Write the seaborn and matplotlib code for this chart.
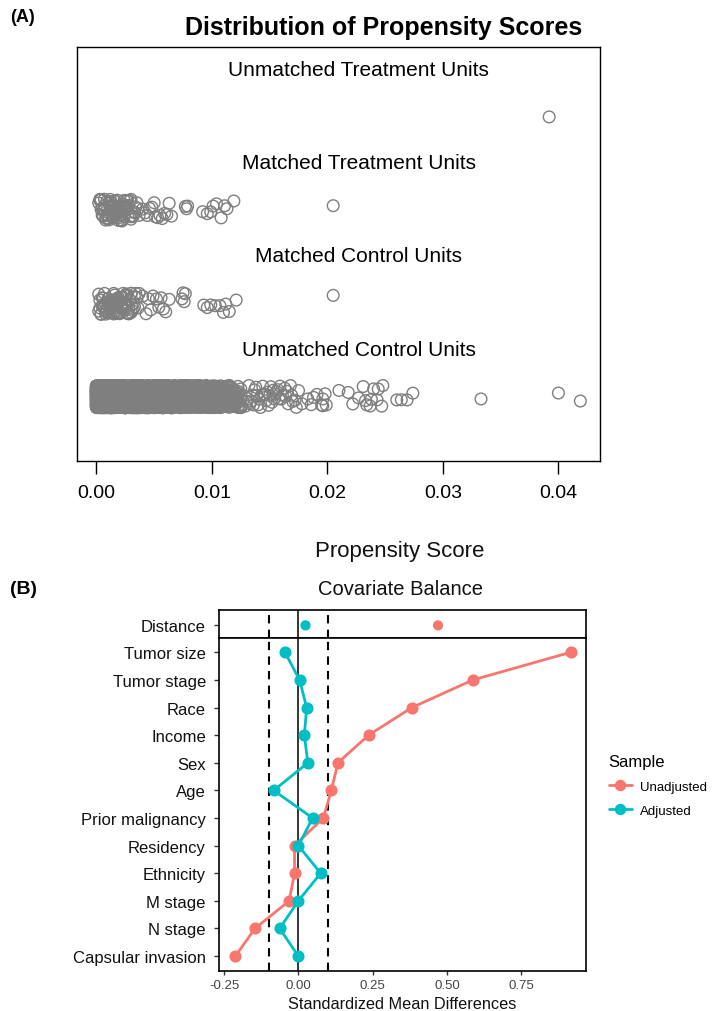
import numpy as np
import pandas as pd
import seaborn as sns
import matplotlib.pyplot as plt
from matplotlib.lines import Line2D

sns.set_style("white")
plt.rcParams['font.family'] = ['Liberation Sans', 'DejaVu Sans']
plt.rcParams['text.color'] = 'black'
plt.rcParams['axes.labelcolor'] = 'black'

# ---- panel A data: propensity scores per group ----
groups = ["Unmatched Treatment Units", "Matched Treatment Units",
          "Matched Control Units", "Unmatched Control Units"]

unmatched_treat = [0.0392]

matched_treat = [
    0.0002, 0.0003, 0.0004, 0.0005, 0.0005, 0.0006, 0.0007, 0.0007, 0.0008, 0.0008,
    0.0009, 0.0009, 0.0010, 0.0010, 0.0011, 0.0011, 0.0012, 0.0012, 0.0013, 0.0013,
    0.0014, 0.0014, 0.0015, 0.0015, 0.0016, 0.0016, 0.0017, 0.0017, 0.0018, 0.0018,
    0.0019, 0.0019, 0.0020, 0.0020, 0.0021, 0.0021, 0.0022, 0.0022, 0.0023, 0.0024,
    0.0024, 0.0025, 0.0026, 0.0026, 0.0027, 0.0028, 0.0029, 0.0030, 0.0031, 0.0032,
    0.0033, 0.0034, 0.0035, 0.0036, 0.0037,
    0.0003, 0.0004, 0.0006, 0.0007, 0.0009, 0.0010, 0.0011, 0.0012, 0.0013, 0.0014,
    0.0015, 0.0016, 0.0017, 0.0018, 0.0019, 0.0020, 0.0021, 0.0022, 0.0023, 0.0025,
    0.0026, 0.0027, 0.0029, 0.0030, 0.0032,
    0.0040, 0.0042, 0.0044, 0.0046, 0.0048, 0.0050, 0.0051, 0.0053, 0.0055, 0.0057,
    0.0059, 0.0061, 0.0063, 0.0065,
    0.0077, 0.0078, 0.0079,
    0.0092, 0.0096, 0.0099, 0.0101, 0.0104, 0.0108, 0.0111, 0.0113, 0.0119,
    0.0205]

matched_ctrl = [
    0.0002, 0.0003, 0.0003, 0.0004, 0.0005, 0.0006, 0.0006, 0.0007, 0.0008, 0.0008,
    0.0009, 0.0010, 0.0010, 0.0011, 0.0011, 0.0012, 0.0012, 0.0013, 0.0013, 0.0014,
    0.0014, 0.0015, 0.0015, 0.0016, 0.0016, 0.0017, 0.0017, 0.0018, 0.0018, 0.0019,
    0.0019, 0.0020, 0.0020, 0.0021, 0.0021, 0.0022, 0.0023, 0.0023, 0.0024, 0.0025,
    0.0025, 0.0026, 0.0027, 0.0028, 0.0028, 0.0029, 0.0030, 0.0031, 0.0032, 0.0033,
    0.0034, 0.0035, 0.0036, 0.0037,
    0.0002, 0.0004, 0.0005, 0.0007, 0.0008, 0.0009, 0.0011, 0.0012, 0.0013, 0.0014,
    0.0015, 0.0016, 0.0017, 0.0018, 0.0019, 0.0020, 0.0022, 0.0023, 0.0024, 0.0026,
    0.0027, 0.0028, 0.0030, 0.0031, 0.0033,
    0.0040, 0.0043, 0.0045, 0.0047, 0.0049, 0.0052, 0.0054, 0.0056, 0.0058, 0.0060,
    0.0063,
    0.0074, 0.0075, 0.0076, 0.0077,
    0.0093, 0.0096, 0.0099, 0.0103, 0.0107, 0.0110, 0.0112, 0.0115, 0.0121,
    0.0205]

# unmatched controls: dense part as a frequency table, tail as single units
uc_bin_scores = [0.00000, 0.00025, 0.00050, 0.00075, 0.00100, 0.00125, 0.00150, 0.00175,
                 0.00200, 0.00225, 0.00250, 0.00275, 0.00300, 0.00325, 0.00350, 0.00375,
                 0.00400, 0.00425, 0.00450, 0.00475, 0.00500, 0.00525, 0.00550, 0.00575,
                 0.00600, 0.00625, 0.00650, 0.00675, 0.00700, 0.00725, 0.00750, 0.00775,
                 0.00800, 0.00825, 0.00850, 0.00875, 0.00900, 0.00925, 0.00950, 0.00975,
                 0.01000, 0.01025, 0.01050, 0.01075, 0.01100, 0.01125, 0.01150, 0.01175,
                 0.01200, 0.01225, 0.01250]
uc_bin_counts = [90, 120, 140, 150, 150, 145, 140, 135, 130, 125, 120, 115, 110, 105,
                 100, 95, 92, 88, 85, 82, 80, 77, 74, 71, 68, 66, 64, 62, 60, 58,
                 56, 54, 52, 50, 48, 46, 44, 42, 40, 38, 36, 33, 30, 27, 24, 21,
                 18, 15, 12, 10, 8]
uc_tail = [
    0.0129, 0.0130, 0.0132, 0.0133, 0.0134, 0.0136, 0.0137, 0.0139, 0.0141, 0.0142,
    0.0144, 0.0145, 0.0147, 0.0148, 0.0150, 0.0151, 0.0153, 0.0155, 0.0156, 0.0158,
    0.0159, 0.0161, 0.0163, 0.0164, 0.0166, 0.0168, 0.0170, 0.0172, 0.0175, 0.0178,
    0.0131, 0.0135, 0.0138, 0.0140, 0.0143, 0.0146, 0.0149, 0.0152, 0.0154, 0.0157,
    0.0160, 0.0165, 0.0169, 0.0173,
    0.0183, 0.0186, 0.0188, 0.0191, 0.0195, 0.0196, 0.0196, 0.0198, 0.0199,
    0.0210,
    0.0218, 0.0222, 0.0227, 0.0231, 0.0233, 0.0234, 0.0237, 0.0238, 0.0240, 0.0243,
    0.0244, 0.0247, 0.0248,
    0.0260, 0.0264, 0.0269, 0.0274,
    0.0333, 0.0400, 0.0419]

# ---- panel B data: standardized mean differences ----
covariates = ["Tumor size", "Tumor stage", "Race", "Income", "Sex", "Age",
              "Prior malignancy", "Residency", "Ethnicity", "M stage", "N stage",
              "Capsular invasion"]
smd_unadj = [0.916, 0.587, 0.382, 0.236, 0.133, 0.111, 0.084, -0.013, -0.013, -0.031,
             -0.146, -0.212]
smd_adj = [-0.045, 0.004, 0.028, 0.020, 0.032, -0.083, 0.048, 0.000, 0.075, 0.000,
           -0.063, 0.000]
distance_unadj = 0.470
distance_adj = 0.024

samples = ["Unadjusted", "Adjusted"]
red, teal = "#F8766D", "#00BFC4"
gray = "#7F7F7F"

# build tables
uc_all = list(np.repeat(uc_bin_scores, uc_bin_counts)) + uc_tail
df_a = pd.concat([
    pd.DataFrame({"score": unmatched_treat, "group": groups[0]}),
    pd.DataFrame({"score": matched_treat, "group": groups[1]}),
    pd.DataFrame({"score": matched_ctrl, "group": groups[2]}),
    pd.DataFrame({"score": uc_all, "group": groups[3]}),
], ignore_index=True)

df_b = pd.concat([
    pd.DataFrame({"covariate": covariates, "smd": smd_unadj, "sample": samples[0]}),
    pd.DataFrame({"covariate": covariates, "smd": smd_adj, "sample": samples[1]}),
], ignore_index=True)

df_d = pd.DataFrame({"covariate": ["Distance", "Distance"],
                     "smd": [distance_unadj, distance_adj], "sample": samples})

fig = plt.figure(figsize=(7.13, 10.12), dpi=100)

# ================= panel A =================
ax_a = fig.add_axes([0.1080, 0.5435, 0.7335, 0.4091])
np.random.seed(11)
sns.stripplot(data=df_a, x="score", y="group", order=groups, jitter=0.12,
              size=8.4, color=gray, linewidth=1.0, ax=ax_a)
for c in ax_a.collections:
    c.set_facecolor("none")
    c.set_edgecolor(gray)
    c.set_linewidth(1.0)

ax_a.set_xlim(-0.00168, 0.0436)
ax_a.set_ylim(3.69, -0.75)
ax_a.set_xticks([0, 0.01, 0.02, 0.03, 0.04])
ax_a.set_xticklabels(["0.00", "0.01", "0.02", "0.03", "0.04"], fontsize=14)
ax_a.set_yticks([])
ax_a.set_xlabel("")
ax_a.set_ylabel("")
ax_a.tick_params(axis="x", direction="out", length=9.5, width=1, pad=7,
                 bottom=True, colors="black")
for s in ax_a.spines.values():
    s.set_color("black")
    s.set_linewidth(1)
for i, g in enumerate(groups):
    ax_a.text(0.0227, i - 0.51, g, ha="center", va="center", fontsize=15,
              color="black")

fig.text(0.014, 1 - 18 / 1012, "(A)", fontsize=13, fontweight="bold", va="center",
         color="black")
fig.text(384 / 713, 1 - 28 / 1012, "Distribution of Propensity Scores",
         fontsize=18, fontweight="bold", ha="center", va="center", color="black")

# ================= panel B =================
ax_d = fig.add_axes([0.3072, 0.3686, 0.5147, 0.0277])
ax_c = fig.add_axes([0.3072, 0.0395, 0.5147, 0.3291])

sns.pointplot(data=df_b, x="smd", y="covariate", hue="sample", order=covariates,
              hue_order=samples, palette=[red, teal], markers="o", errorbar=None,
              markersize=7.2, linewidth=2.0, legend=False, ax=ax_c)
sns.scatterplot(data=df_d, x="smd", y="covariate", hue="sample", hue_order=samples,
                palette=[red, teal], s=54, edgecolor="none", legend=False, ax=ax_d)

xlim = (-0.267, 0.968)
for ax in (ax_d, ax_c):
    ax.axvline(0, color="black", lw=1.1, zorder=1)
    for v in (-0.1, 0.1):
        ax.axvline(v, color="black", lw=1.5, ls=(0, (4, 3)), zorder=1)
    ax.set_xlim(*xlim)
    ax.set_xlabel("")
    ax.set_ylabel("")
    for s in ax.spines.values():
        s.set_color("black")
        s.set_linewidth(1.2)
    ax.tick_params(axis="y", direction="out", length=3.5, width=1, pad=6,
                   left=True, colors="#333333", labelcolor="#111111", labelsize=12)

ax_d.set_ylim(0.45, -0.55)
ax_d.set_xticks([])
ax_c.set_ylim(11.54, -0.52)
ax_c.set_xticks([-0.25, 0, 0.25, 0.5, 0.75])
ax_c.set_xticklabels(["-0.25", "0.00", "0.25", "0.50", "0.75"])
ax_c.tick_params(axis="x", direction="out", length=3, width=1, pad=3, bottom=True,
                 colors="#333333", labelcolor="#444444", labelsize=9.5)
ax_c.set_xlabel("Standardized Mean Differences", fontsize=11.7, labelpad=3,
                color="#111111")

fig.text(0.014, 1 - 590 / 1012, "(B)", fontsize=14, fontweight="bold", va="center",
         color="black")
fig.text(400 / 713, 1 - 552 / 1012, "Propensity Score", fontsize=16,
         ha="center", va="center", color="#111111")
fig.text(400 / 713, 1 - 590 / 1012, "Covariate Balance", fontsize=14.5,
         ha="center", va="center", color="#111111")

handles = [Line2D([], [], color=red, marker="o", markersize=7.2, lw=2.0),
           Line2D([], [], color=teal, marker="o", markersize=7.2, lw=2.0)]
leg = fig.legend(handles, samples, title="Sample", loc="upper left",
                 bbox_to_anchor=(602 / 713, 1 - 748 / 1012), frameon=False,
                 fontsize=9.5, title_fontsize=12, handlelength=1.8,
                 handletextpad=0.6, labelspacing=0.9, borderpad=0)
leg._legend_box.align = "left"

fig.savefig("out.png", dpi=100)
